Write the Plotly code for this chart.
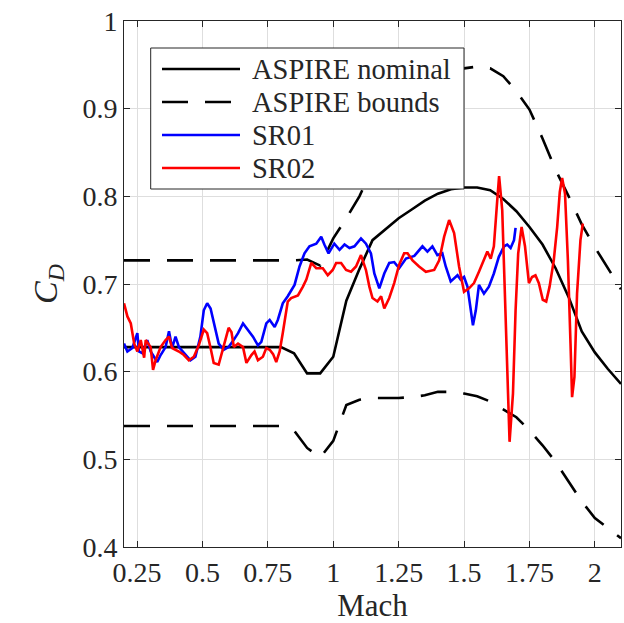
import plotly.graph_objects as go

# ASPIRE nominal
nom_mach = [0.2, 0.8, 0.85, 0.9, 0.95, 1.0, 1.05, 1.1, 1.15, 1.2, 1.25, 1.3, 1.35, 1.4, 1.45,
            1.5, 1.55, 1.6, 1.65, 1.7, 1.75, 1.8, 1.85, 1.9, 1.95, 2.0, 2.05, 2.1]
nom_cd = [0.628, 0.628, 0.621, 0.598, 0.598, 0.617, 0.681, 0.717, 0.750, 0.763, 0.775, 0.785,
          0.795, 0.803, 0.808, 0.810, 0.810, 0.807, 0.797, 0.783, 0.765, 0.745, 0.718, 0.685,
          0.646, 0.622, 0.603, 0.586]

# ASPIRE bounds
up_mach = [0.2, 0.85, 0.9, 0.95, 1.0, 1.05, 1.1, 1.15, 1.2, 1.25, 1.3, 1.35, 1.4, 1.45, 1.5,
           1.55, 1.6, 1.65, 1.7, 1.75, 1.8, 1.85, 1.9, 1.95, 2.0, 2.05, 2.1]
up_cd = [0.727, 0.727, 0.728, 0.721, 0.752, 0.775, 0.800, 0.832, 0.860, 0.882, 0.900, 0.916,
         0.930, 0.940, 0.946, 0.948, 0.946, 0.937, 0.920, 0.899, 0.866, 0.830, 0.800, 0.768,
         0.742, 0.718, 0.694]
lo_mach = [0.2, 0.8, 0.85, 0.9, 0.95, 1.0, 1.05, 1.1, 1.15, 1.2, 1.25, 1.3, 1.35, 1.4, 1.45,
           1.5, 1.55, 1.6, 1.65, 1.7, 1.75, 1.8, 1.85, 1.9, 1.95, 2.0, 2.05, 2.1]
lo_cd = [0.538, 0.538, 0.533, 0.513, 0.502, 0.521, 0.562, 0.568, 0.570, 0.570, 0.570, 0.571,
         0.573, 0.577, 0.577, 0.575, 0.572, 0.566, 0.557, 0.548, 0.533, 0.516, 0.497, 0.474,
         0.452, 0.433, 0.421, 0.410]

# SR01 flight data
sr01_mach = [0.2, 0.213, 0.232, 0.251, 0.257, 0.27, 0.289, 0.302, 0.327, 0.34, 0.359, 0.372,
             0.384, 0.397, 0.41, 0.429, 0.454, 0.473, 0.492, 0.505, 0.518, 0.531, 0.543, 0.562,
             0.581, 0.6, 0.619, 0.636, 0.655, 0.674, 0.693, 0.712, 0.725, 0.744, 0.757, 0.776,
             0.788, 0.807, 0.826, 0.852, 0.871, 0.89, 0.909, 0.935, 0.954, 0.966, 0.982, 1.004,
             1.024, 1.043, 1.062, 1.081, 1.106, 1.125, 1.144, 1.157, 1.176, 1.195, 1.214, 1.233,
             1.252, 1.278, 1.31, 1.341, 1.36, 1.379, 1.398, 1.417, 1.43, 1.449, 1.475, 1.487,
             1.5, 1.513, 1.526, 1.534, 1.545, 1.557, 1.576, 1.595, 1.614, 1.633, 1.653, 1.665,
             1.678, 1.691, 1.697]
sr01_cd = [0.632, 0.623, 0.627, 0.644, 0.623, 0.621, 0.636, 0.623, 0.611, 0.619, 0.628, 0.646,
           0.627, 0.640, 0.628, 0.621, 0.613, 0.617, 0.640, 0.670, 0.678, 0.672, 0.655, 0.632,
           0.625, 0.628, 0.636, 0.644, 0.655, 0.648, 0.640, 0.630, 0.634, 0.655, 0.659, 0.651,
           0.659, 0.678, 0.686, 0.699, 0.720, 0.735, 0.743, 0.746, 0.754, 0.745, 0.735, 0.746,
           0.739, 0.745, 0.741, 0.743, 0.752, 0.746, 0.735, 0.712, 0.695, 0.712, 0.724, 0.725,
           0.718, 0.729, 0.732, 0.743, 0.737, 0.743, 0.733, 0.735, 0.720, 0.703, 0.710, 0.705,
           0.708, 0.697, 0.667, 0.653, 0.670, 0.699, 0.689, 0.697, 0.712, 0.731, 0.743, 0.745,
           0.741, 0.750, 0.764]

# SR02 flight data
sr02_mach = [0.2, 0.213, 0.226, 0.239, 0.251, 0.264, 0.277, 0.283, 0.302, 0.311, 0.321, 0.34,
             0.359, 0.372, 0.384, 0.41, 0.429, 0.448, 0.467, 0.486, 0.505, 0.518, 0.531, 0.543,
             0.562, 0.581, 0.6, 0.611, 0.62, 0.636, 0.655, 0.668, 0.687, 0.699, 0.712, 0.731,
             0.744, 0.757, 0.77, 0.782, 0.795, 0.807, 0.826, 0.839, 0.865, 0.884, 0.897, 0.916,
             0.935, 0.96, 0.979, 0.998, 1.011, 1.03, 1.049, 1.068, 1.087, 1.106, 1.125, 1.138,
             1.15, 1.169, 1.183, 1.195, 1.214, 1.233, 1.252, 1.271, 1.284, 1.303, 1.328, 1.354,
             1.386, 1.405, 1.424, 1.443, 1.462, 1.481, 1.5, 1.519, 1.538, 1.557, 1.576, 1.589,
             1.602, 1.614, 1.627, 1.634, 1.646, 1.656, 1.665, 1.674, 1.687, 1.697, 1.707, 1.72,
             1.733, 1.748, 1.76, 1.773, 1.786, 1.801, 1.814, 1.827, 1.843, 1.856, 1.866, 1.875,
             1.886, 1.897, 1.907, 1.913, 1.922, 1.932, 1.945, 1.954]
sr02_cd = [0.678, 0.663, 0.655, 0.632, 0.623, 0.636, 0.616, 0.636, 0.628, 0.602, 0.613, 0.628,
           0.636, 0.640, 0.627, 0.623, 0.619, 0.613, 0.617, 0.630, 0.648, 0.644, 0.627, 0.610,
           0.608, 0.628, 0.650, 0.645, 0.628, 0.632, 0.628, 0.610, 0.619, 0.623, 0.613, 0.617,
           0.627, 0.625, 0.620, 0.611, 0.623, 0.644, 0.680, 0.684, 0.687, 0.697, 0.705, 0.724,
           0.718, 0.718, 0.710, 0.716, 0.724, 0.724, 0.716, 0.714, 0.720, 0.733, 0.716, 0.697,
           0.684, 0.680, 0.686, 0.672, 0.684, 0.701, 0.722, 0.735, 0.735, 0.727, 0.720, 0.714,
           0.716, 0.727, 0.754, 0.773, 0.758, 0.720, 0.691, 0.695, 0.701, 0.714, 0.727, 0.737,
           0.729, 0.743, 0.796, 0.823, 0.784, 0.689, 0.594, 0.520, 0.575, 0.670, 0.735, 0.765,
           0.743, 0.701, 0.708, 0.710, 0.701, 0.682, 0.680, 0.697, 0.727, 0.765, 0.805, 0.821,
           0.803, 0.727, 0.632, 0.571, 0.594, 0.689, 0.750, 0.769]

x_ticks = [0.25, 0.5, 0.75, 1, 1.25, 1.5, 1.75, 2]
x_ticklabels = ["0.25", "0.5", "0.75", "1", "1.25", "1.5", "1.75", "2"]
y_ticks = [0.4, 0.5, 0.6, 0.7, 0.8, 0.9, 1.0]
y_ticklabels = ["0.4", "0.5", "0.6", "0.7", "0.8", "0.9", "1"]

legend_labels = ["ASPIRE nominal", "ASPIRE bounds", "SR01", "SR02"]

FONT = "Liberation Serif, Times New Roman, serif"
TXT = "#262626"
DASH = "26px,17px"
LW = 2.6

styles = [
    dict(color="black", width=LW),
    dict(color="black", width=LW, dash=DASH),
    dict(color="#0000ff", width=LW),
    dict(color="#ff0000", width=LW),
]

fig = go.Figure()
fig.add_trace(go.Scatter(x=nom_mach, y=nom_cd, mode="lines", name=legend_labels[0],
                         line=styles[0], showlegend=False))
fig.add_trace(go.Scatter(x=up_mach, y=up_cd, mode="lines", name=legend_labels[1],
                         line=styles[1], showlegend=False))
fig.add_trace(go.Scatter(x=lo_mach, y=lo_cd, mode="lines", name=legend_labels[1],
                         line=styles[1], showlegend=False))
fig.add_trace(go.Scatter(x=sr01_mach, y=sr01_cd, mode="lines", name=legend_labels[2],
                         line=styles[2], showlegend=False))
fig.add_trace(go.Scatter(x=sr02_mach, y=sr02_cd, mode="lines", name=legend_labels[3],
                         line=styles[3], showlegend=False))

# Legend box (MATLAB-style, long line samples), in paper coordinates
plot_w, plot_h = 497.0, 526.0
box_l, box_r, box_t, box_b = 26.7, 340.0, 27.0, 168.0   # px inside plot area
row_y0, row_dy = 48.0, 33.0
line_l, line_r, text_l = 38.0, 116.0, 126.0

def px(v):
    return v / plot_w

def py(v):
    return 1 - v / plot_h

shapes = [dict(type="rect", xref="paper", yref="paper",
               x0=px(box_l), x1=px(box_r), y0=py(box_b), y1=py(box_t),
               line=dict(color=TXT, width=1), fillcolor="white", layer="above")]
annotations = []
for i, (lab, st) in enumerate(zip(legend_labels, styles)):
    yy = py(row_y0 + i * row_dy)
    shapes.append(dict(type="line", xref="paper", yref="paper",
                       x0=px(line_l), x1=px(line_r), y0=yy, y1=yy,
                       line=st, layer="above"))
    annotations.append(dict(xref="paper", yref="paper", x=px(text_l), y=yy,
                            xanchor="left", yanchor="middle", showarrow=False,
                            text=lab, font=dict(family=FONT, size=28.5, color=TXT)))

axis_common = dict(
    showgrid=True, gridcolor="#dedede", gridwidth=1,
    showline=True, linecolor=TXT, linewidth=1, mirror="ticks",
    ticks="inside", ticklen=6, tickcolor=TXT, tickwidth=1,
    tickfont=dict(family=FONT, size=28, color=TXT),
    zeroline=False,
)

fig.update_layout(
    width=624, height=623,
    margin=dict(l=124, r=3, t=21, b=76),
    paper_bgcolor="white", plot_bgcolor="white",
    font=dict(family=FONT, color=TXT),
    xaxis=dict(range=[0.2, 2.1], tickvals=x_ticks, ticktext=x_ticklabels,
               title=dict(text="Mach", font=dict(family=FONT, size=31, color=TXT), standoff=4),
               **axis_common),
    yaxis=dict(range=[0.4, 1.0], tickvals=y_ticks, ticktext=y_ticklabels,
               title=dict(text="<i>C</i><sub><i>D</i></sub>",
                          font=dict(family=FONT, size=34, color=TXT), standoff=14),
               **axis_common),
    shapes=shapes,
    annotations=annotations,
    showlegend=False,
)

fig.write_html("out.html")
